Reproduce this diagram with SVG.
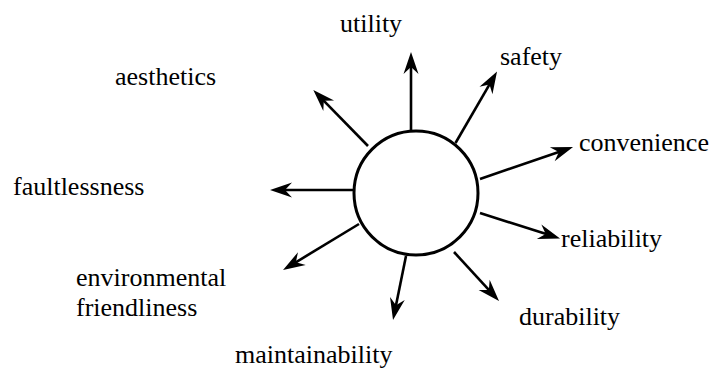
<svg xmlns="http://www.w3.org/2000/svg" width="711" height="369" viewBox="0 0 711 369">
<style>
.c{stroke:#000;stroke-width:2.6;fill:none}
</style>
<defs>
<marker id="ah" markerUnits="userSpaceOnUse" viewBox="-12 -10 26 20" refX="0" refY="0" markerWidth="26" markerHeight="20" orient="auto">
<path d="M12,0 L-10,-7.5 L-3,0 L-10,7.5 Z" fill="#000"/>
</marker>
</defs>
<rect width="711" height="369" fill="#fff"/>
<g id="connectors">
<line class="c" x1="411" y1="131" x2="411" y2="64" marker-end="url(#ah)"/>
<line class="c" x1="455.5" y1="143" x2="491" y2="81.9" marker-end="url(#ah)"/>
<line class="c" x1="368" y1="146" x2="321.7" y2="98.6" marker-end="url(#ah)"/>
<line class="c" x1="480" y1="179" x2="561.7" y2="151" marker-end="url(#ah)"/>
<line class="c" x1="480" y1="213" x2="548.6" y2="234.8" marker-end="url(#ah)"/>
<line class="c" x1="454" y1="252" x2="490.9" y2="292.2" marker-end="url(#ah)"/>
<line class="c" x1="406" y1="256" x2="395.4" y2="308.2" marker-end="url(#ah)"/>
<line class="c" x1="359" y1="224" x2="293.3" y2="263.8" marker-end="url(#ah)"/>
<line class="c" x1="354" y1="190" x2="282" y2="190" marker-end="url(#ah)"/>
</g>
<g id="center">
<circle cx="416" cy="193" r="62" fill="#fff" stroke="#000" stroke-width="3"/>
</g>
<g font-family="Liberation Serif, Times New Roman, DejaVu Serif, serif" font-size="26" fill="#000">
<g id="utility"><text x="340" y="32">utility</text></g>
<g id="safety"><text x="500" y="65">safety</text></g>
<g id="aesthetics"><text x="115" y="85">aesthetics</text></g>
<g id="convenience"><text x="579" y="151">convenience</text></g>
<g id="faultlessness"><text x="13" y="195">faultlessness</text></g>
<g id="reliability"><text x="561" y="247">reliability</text></g>
<g id="environmental-friendliness"><text x="76" y="286">environmental</text><text x="76" y="316">friendliness</text></g>
<g id="durability"><text x="519" y="325">durability</text></g>
<g id="maintainability"><text x="235" y="363">maintainability</text></g>
</g>
</svg>
